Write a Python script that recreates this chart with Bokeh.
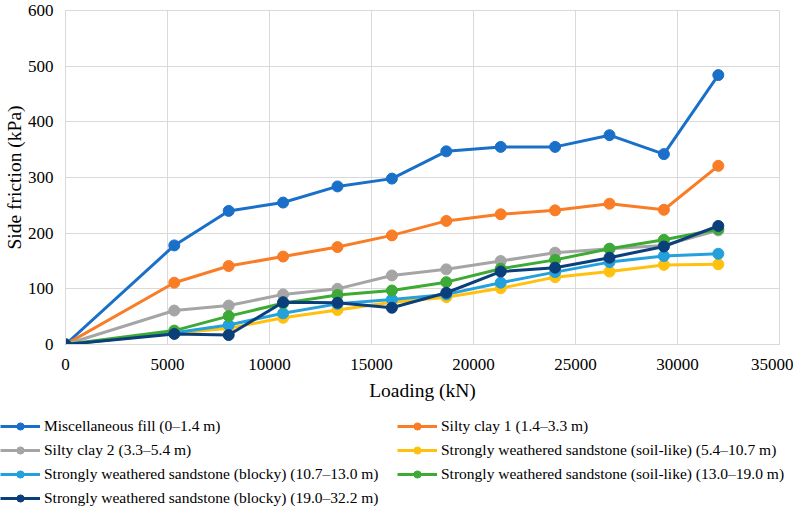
from bokeh.plotting import figure
from bokeh.models import Legend, LegendItem, FixedTicker, Range1d
from bokeh.layouts import column
from bokeh.embed import file_html
from bokeh.resources import INLINE

loading = [0, 5333, 8000, 10667, 13333, 16000, 18667, 21333, 24000, 26667, 29333, 32000]

misc_fill = [0, 178, 240, 255, 284, 298, 347, 355, 355, 376, 342, 484]
silty_clay_1 = [0, 111, 141, 158, 175, 196, 222, 234, 241, 253, 242, 321]
silty_clay_2 = [0, 61, 70, 90, 100, 124, 135, 150, 165, 172, 178, 205]
sandstone_soil_1 = [0, 20, 29, 48, 62, 76, 85, 101, 121, 131, 143, 144]
sandstone_blocky_1 = [0, 21, 35, 56, 73, 81, 90, 111, 130, 148, 159, 163]
sandstone_soil_2 = [0, 25, 51, 74, 89, 97, 112, 136, 152, 172, 188, 207]
sandstone_blocky_2 = [0, 19, 17, 76, 75, 66, 93, 131, 138, 156, 176, 213]

labels = [
    "Miscellaneous fill (0\u20131.4 m)",
    "Silty clay 1 (1.4\u20133.3 m)",
    "Silty clay 2 (3.3\u20135.4 m)",
    "Strongly weathered sandstone (soil-like) (5.4\u201310.7 m)",
    "Strongly weathered sandstone (blocky) (10.7\u201313.0 m)",
    "Strongly weathered sandstone (soil-like) (13.0\u201319.0 m)",
    "Strongly weathered sandstone (blocky) (19.0\u201332.2 m)",
]
series = [misc_fill, silty_clay_1, silty_clay_2, sandstone_soil_1,
          sandstone_blocky_1, sandstone_soil_2, sandstone_blocky_2]
colors = ["#1A70C8", "#F97D26", "#A5A5A5", "#FFC10E", "#24A0DC", "#3DAA35", "#0B3F7C"]

x_ticks = [0, 5000, 10000, 15000, 20000, 25000, 30000, 35000]
y_ticks = [0, 100, 200, 300, 400, 500, 600]

FONT = "Liberation Serif"
GRID = "#D9D9D9"

p = figure(width=793, height=406, output_backend="svg", toolbar_location=None,
           x_range=Range1d(0, 35000), y_range=Range1d(0, 600),
           min_border_left=59, min_border_right=14, min_border_top=10,
           min_border_bottom=62)
p.frame_align = False

p.outline_line_color = GRID
p.outline_line_width = 1
p.xgrid.grid_line_color = GRID
p.ygrid.grid_line_color = GRID
p.xaxis.ticker = FixedTicker(ticks=x_ticks)
p.yaxis.ticker = FixedTicker(ticks=y_ticks)

for ax in (p.xaxis[0], p.yaxis[0]):
    ax.axis_line_color = GRID
    ax.major_tick_line_color = None
    ax.minor_tick_line_color = None
    ax.major_tick_out = 0
    ax.major_tick_in = 0
    ax.major_label_text_font = FONT
    ax.major_label_text_font_size = "17px"
    ax.major_label_text_color = "#000000"
    ax.axis_label_text_font = FONT
    ax.axis_label_text_font_size = "19.5px"
    ax.axis_label_text_font_style = "normal"
    ax.axis_label_text_color = "#000000"

p.xaxis.axis_label = "Loading (kN)"
p.yaxis.axis_label = "Side friction (kPa)"
p.xaxis.major_label_standoff = 14
p.xaxis.axis_label_standoff = 7
p.yaxis.major_label_standoff = 12
p.yaxis.axis_label_standoff = 0

# legend strip below the chart (its data lie outside its own view)
lg = figure(width=793, height=101, output_backend="svg", toolbar_location=None,
            x_range=Range1d(-2, -1), y_range=Range1d(-2, -1),
            min_border_left=0, min_border_right=0, min_border_top=0, min_border_bottom=0,
            x_axis_location=None, y_axis_location=None)
lg.frame_align = False
lg.outline_line_color = None
lg.xgrid.visible = False
lg.ygrid.visible = False

items = []
for lab, ys, c in zip(labels, series, colors):
    p.line(loading, ys, line_color=c, line_width=3)
    p.scatter(loading, ys, size=11, fill_color=c, line_color=c, marker="circle")
    lr = lg.line(loading, ys, line_color=c, line_width=3)
    sr = lg.scatter(loading, ys, size=11, fill_color=c, line_color=c, marker="circle")
    items.append(LegendItem(label=lab, renderers=[lr, sr]))

legend = Legend(items=items, location=(0, 0), ncols=2, orientation="horizontal",
                padding=0, margin=0, spacing=6, glyph_width=40, glyph_height=18,
                label_height=18, label_width=347, label_standoff=4,
                label_text_font=FONT, label_text_font_size="15.5px",
                label_text_color="#000000",
                border_line_color=None, background_fill_alpha=0)
lg.add_layout(legend)

layout = column(p, lg, spacing=0)
open("out.html", "w").write(file_html(layout, INLINE))
